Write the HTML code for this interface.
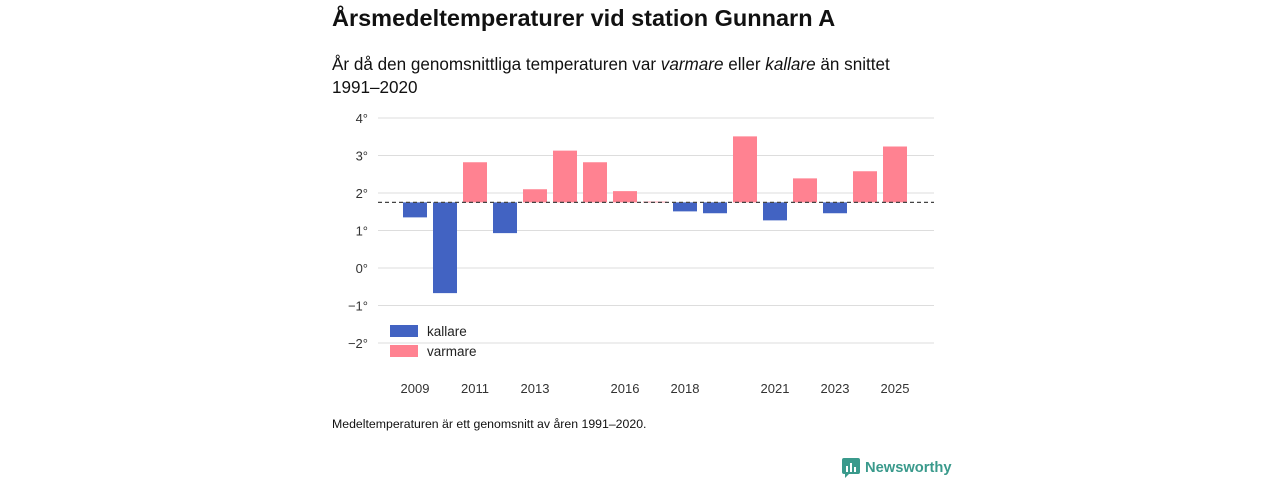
<!DOCTYPE html>
<html><head><meta charset="utf-8"><style>
body{margin:0;width:1280px;height:480px;background:#fff;font-family:"Liberation Sans",sans-serif;overflow:hidden;position:relative;color:#111}
.t{position:absolute;left:332px}
</style></head><body>
<div class="t" style="top:5px;font-size:23.5px;font-weight:bold">Årsmedeltemperaturer vid station Gunnarn A</div>
<div class="t" style="top:53px;font-size:17.1px;line-height:23px;width:580px">År då den genomsnittliga temperaturen var <i>varmare</i> eller <i>kallare</i> än snittet 1991–2020</div>
<div class="t" style="top:417px;font-size:12.3px">Medeltemperaturen är ett genomsnitt av åren 1991–2020.</div>
<div style="position:absolute;left:842px;top:458px;font-size:14.7px;color:#3a9a8c;font-weight:bold;display:flex;align-items:center">
<svg width="18" height="20" viewBox="0 0 18 20"><rect x="0" y="0" width="18" height="16" rx="2" fill="#3a9a8c"/><path d="M3 16 L3 20 L7 16Z" fill="#3a9a8c"/><rect x="4" y="8" width="2" height="6" fill="#fff"/><rect x="8" y="5" width="2" height="9" fill="#fff"/><rect x="12" y="9" width="2" height="5" fill="#fff"/></svg>
<span style="margin-left:5px">Newsworthy</span></div>
<svg id="c" width="1280" height="480" style="position:absolute;left:0;top:0"></svg>
<script>
const years=[2009,2010,2011,2012,2013,2014,2015,2016,2017,2018,2019,2020,2021,2022,2023,2024,2025];
const temps=[1.35,-0.67,2.82,0.93,2.1,3.13,2.82,2.05,1.77,1.51,1.46,3.51,1.27,2.39,1.46,2.58,3.24];
const baseline=1.75;
const yTicks=[4,3,2,1,0,-1,-2];
const yTickLabels=["4°","3°","2°","1°","0°","−1°","−2°"];
const xTickYears=[2009,2011,2013,2016,2018,2021,2023,2025];
const svg=document.getElementById('c');const NS='http://www.w3.org/2000/svg';
const y=v=>268-v*37.5;const x=yr=>415+(yr-2009)*30;
function mk(t,a){const e=document.createElementNS(NS,t);for(const k in a)e.setAttribute(k,a[k]);svg.appendChild(e);return e;}
yTicks.forEach((v,i)=>{
 const l=mk('line',{x1:378,x2:934,y1:y(v),y2:y(v),stroke:'#ddd','stroke-width':1});
 
 
 const t=mk('text',{x:368,y:y(v)+5,'text-anchor':'end','font-size':13,fill:'#333','font-family':'Liberation Sans,sans-serif'});t.textContent=yTickLabels[i];
 
 
});
years.forEach((yr,i)=>{
 const v=temps[i];const top=y(Math.max(v,baseline)),bot=y(Math.min(v,baseline));
 const r=mk('rect',{x:x(yr)-12,y:top,width:24,height:Math.max(bot-top,0.5),fill:v>=baseline?'#ff8291':'#4263c2'});
 
 
});
const bl=mk('line',{x1:378,x2:934,y1:y(baseline),y2:y(baseline),stroke:'#444','stroke-width':1.3,'stroke-dasharray':'4,3'});


xTickYears.forEach(yr=>{
 const t=mk('text',{x:x(yr),y:393,'text-anchor':'middle','font-size':13,fill:'#333','font-family':'Liberation Sans,sans-serif'});t.textContent=yr;
 
 
});
[['kallare','#4263c2',331],['varmare','#ff8291',351]].forEach(([n,c,yy])=>{
 const r=mk('rect',{x:390,y:yy-6,width:28,height:12,fill:c});
 
 
 const t=mk('text',{x:427,y:yy+5,'font-size':13.5,fill:'#222','font-family':'Liberation Sans,sans-serif'});t.textContent=n;
 
 
});
</script>
</body></html>
